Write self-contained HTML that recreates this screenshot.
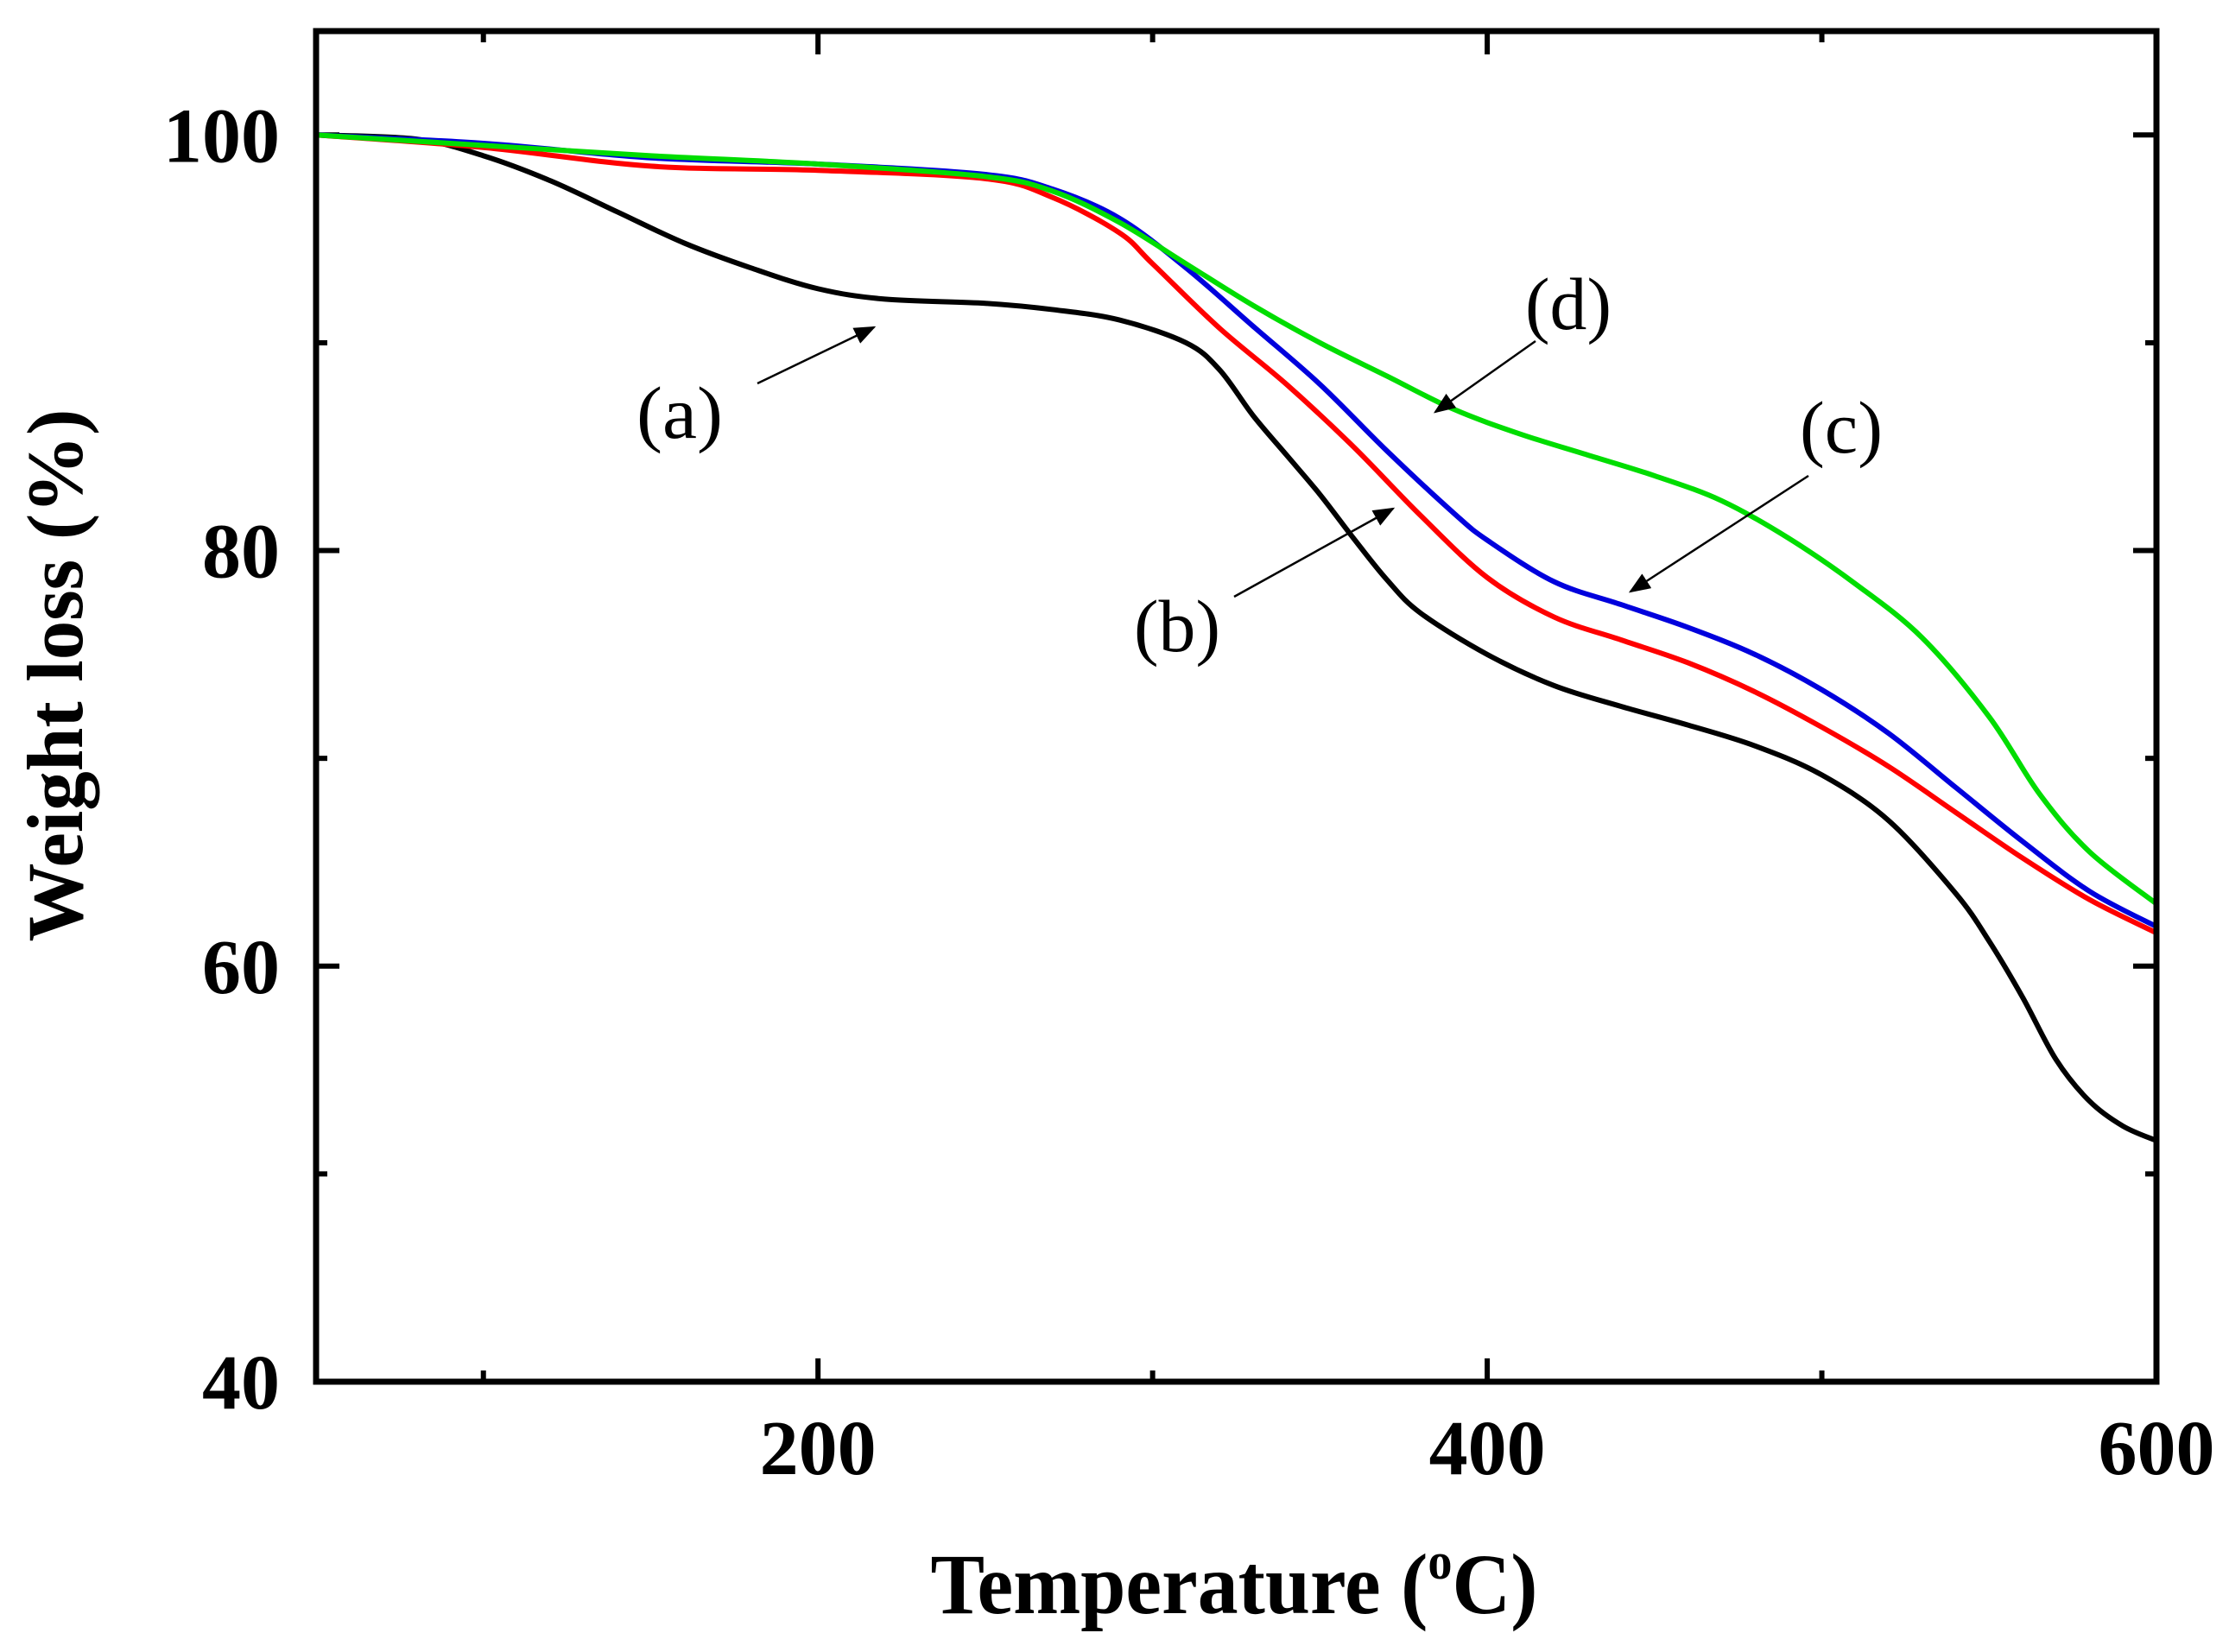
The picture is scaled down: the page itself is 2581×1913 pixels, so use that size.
<!DOCTYPE html>
<html><head><meta charset="utf-8"><style>
html,body{margin:0;padding:0;background:#fff;}
svg{display:block;font-family:"Liberation Serif",serif;}
</style></head><body>
<svg id="chart" width="2581" height="1913" viewBox="0 0 2581 1913" xmlns="http://www.w3.org/2000/svg">
<g id="ticks"></g>
<g id="series"></g>
<rect x="366" y="36" width="2131" height="1564" fill="none" stroke="#000" stroke-width="7"/>
<g id="labels"></g>
<text x="1429" y="1868" font-size="100" font-weight="bold" text-anchor="middle" textLength="703" lengthAdjust="spacingAndGlyphs">Temperature (<tspan font-size="60" dy="-40">o</tspan><tspan dy="40">C)</tspan></text>
<text transform="translate(95,782) rotate(-90)" font-size="92" font-weight="bold" text-anchor="middle" textLength="617" lengthAdjust="spacingAndGlyphs">Weight loss (%)</text>
<g font-size="86">
<text x="787" y="507" text-anchor="middle" textLength="100" lengthAdjust="spacingAndGlyphs">(a)</text>
<text x="1363" y="754" text-anchor="middle" textLength="100" lengthAdjust="spacingAndGlyphs">(b)</text>
<text x="2132" y="524" text-anchor="middle" textLength="96" lengthAdjust="spacingAndGlyphs">(c)</text>
<text x="1816" y="381" text-anchor="middle" textLength="100" lengthAdjust="spacingAndGlyphs">(d)</text>
</g>
<defs><marker id="ah" markerWidth="10" markerHeight="8" refX="9" refY="4" orient="auto" markerUnits="strokeWidth"><path d="M0,0 L10,4 L0,8 z" fill="#000"/></marker></defs>
<g stroke="#000" stroke-width="2.5" marker-end="url(#ah)">
<line x1="877" y1="444" x2="1012" y2="379"/>
<line x1="1429" y1="691" x2="1613" y2="589"/>
<line x1="2094" y1="551" x2="1888" y2="685"/>
<line x1="1778" y1="395" x2="1662" y2="477"/>
</g>
</svg>
<script>
const xMajor=[200,400,600];
const xMinor=[100,300,500];
const yMajor=[40,60,80,100];
const yMinor=[50,70,90];
const aT=[50,80,100,120,140,160,180,200,220,250,270,290,310,320,330,340,350,360,370,380,400,420,440,460,480,500,520,540,550,560,570,580,590,600];
const aW=[100,99.8,99,97.8,96.3,94.8,93.6,92.6,92.1,91.9,91.6,91.1,90,88.7,86.5,84.6,82.7,80.6,78.6,77,75,73.5,72.5,71.6,70.6,69.2,67,63.5,61.2,58.5,55.5,53.5,52.3,51.6];
const bT=[50,100,150,200,250,270,290,300,320,340,360,380,400,420,440,460,480,500,520,540,560,580,600];
const bW=[100,99.4,98.5,98.3,97.9,97,95.3,93.8,90.7,88,85,81.7,78.7,76.8,75.7,74.6,73.2,71.5,69.6,67.4,65.2,63.2,61.6];
const cT=[50,100,150,200,250,270,290,310,330,350,370,390,400,420,440,460,480,500,520,540,560,580,600];
const cW=[100,99.6,98.9,98.6,98.1,97.4,96,93.6,90.8,88,84.8,81.8,80.5,78.5,77.4,76.3,75,73.3,71.2,68.6,66,63.6,61.9];
const dT=[50,100,150,200,250,270,290,310,330,350,370,390,410,430,450,470,490,510,530,550,565,580,600];
const dW=[100,99.5,99,98.6,98,97.3,95.8,93.8,91.8,90,88.4,86.8,85.6,84.6,83.6,82.4,80.6,78.4,75.8,72,68.3,65.5,63];

const X0=366,X1=2497,Y0=1600,Y1=36,XMIN=50,XMAX=600,YMIN=40,YMAX=105;
const sx=v=>X0+(v-XMIN)/(XMAX-XMIN)*(X1-X0);
const sy=v=>Y0-(v-YMIN)/(YMAX-YMIN)*(Y0-Y1);
const NS="http://www.w3.org/2000/svg";
const tg=document.getElementById('ticks'),lg=document.getElementById('labels'),sg=document.getElementById('series');
function ln(x1,y1,x2,y2){const l=document.createElementNS(NS,'line');l.setAttribute('x1',x1);l.setAttribute('y1',y1);l.setAttribute('x2',x2);l.setAttribute('y2',y2);l.setAttribute('stroke','#000');l.setAttribute('stroke-width','6');


tg.appendChild(l);}
xMajor.forEach(v=>{const x=sx(v);ln(x,Y0,x,Y0-27);ln(x,Y1,x,Y1+27);
const t=document.createElementNS(NS,'text');t.setAttribute('x',x);t.setAttribute('y',1707);t.setAttribute('text-anchor','middle');t.setAttribute('font-size','90');t.setAttribute('font-weight','bold');t.textContent=v;


lg.appendChild(t);});
xMinor.forEach(v=>{const x=sx(v);ln(x,Y0,x,Y0-13);ln(x,Y1,x,Y1+13);});
yMajor.forEach(v=>{const y=sy(v);ln(X0,y,X0+27,y);ln(X1,y,X1-27,y);
const t=document.createElementNS(NS,'text');t.setAttribute('x',324);t.setAttribute('y',y+31);t.setAttribute('text-anchor','end');t.setAttribute('font-size','90');t.setAttribute('font-weight','bold');t.textContent=v;


lg.appendChild(t);});
yMinor.forEach(v=>{const y=sy(v);ln(X0,y,X0+13,y);ln(X1,y,X1-13,y);});
function path(T,W){const p=T.map((t,i)=>[sx(t),sy(W[i])]);let d='M'+p[0][0]+','+p[0][1];
for(let i=0;i<p.length-1;i++){const p0=p[i-1]||p[i],p1=p[i],p2=p[i+1],p3=p[i+2]||p2;
const c1=[p1[0]+(p2[0]-p0[0])/6,p1[1]+(p2[1]-p0[1])/6],c2=[p2[0]-(p3[0]-p1[0])/6,p2[1]-(p3[1]-p1[1])/6];
d+=' C'+c1+' '+c2+' '+p2;}return d;}
[[aT,aW,'#000','series-a'],[bT,bW,'#ff0000','series-b'],[cT,cW,'#0000dd','series-c'],[dT,dW,'#00dd00','series-d']].forEach(s=>{
const e=document.createElementNS(NS,'path');e.setAttribute('d',path(s[0],s[1]));e.setAttribute('fill','none');e.setAttribute('stroke',s[2]);e.setAttribute('stroke-width','6');


sg.appendChild(e);});
</script>
</body></html>
